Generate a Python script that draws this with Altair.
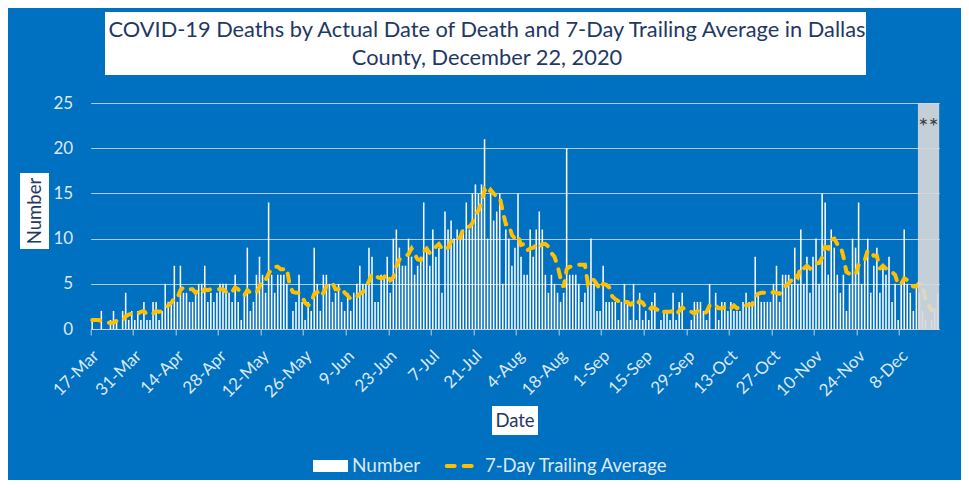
import altair as alt
import pandas as pd

# ---- data ----
start_date = "2020-03-17"

deaths = [
    1, 0, 0, 2, 0, 0, 1, 2, 1, 0,
    2, 4, 1, 2, 1, 2, 1, 3, 1, 1,
    3, 3, 1, 2, 5, 3, 3, 7, 3, 7,
    4, 4, 3, 3, 4, 5, 5, 7, 3, 4,
    3, 4, 5, 5, 5, 4, 3, 6, 3, 1,
    4, 9, 2, 3, 6, 8, 6, 4, 14, 6,
    4, 6, 6, 6, 5, 0, 2, 3, 6, 3,
    1, 3, 2, 9, 5, 2, 6, 6, 5, 3,
    4, 5, 3, 2, 4, 2, 4, 5, 7, 5,
    5, 9, 8, 3, 3, 6, 6, 8, 4, 10,
    11, 9, 7, 7, 10, 8, 6, 7, 8, 14,
    9, 7, 11, 8, 9, 4, 13, 11, 12, 10,
    11, 10, 11, 14, 11, 15, 16, 15, 16, 21,
    10, 15, 12, 13, 15, 5, 11, 10, 7, 9,
    15, 8, 6, 6, 11, 8, 11, 13, 11, 6,
    4, 6, 5, 4, 3, 4, 20, 6, 6, 6,
    5, 3, 4, 5, 10, 5, 2, 2, 7, 3,
    3, 3, 3, 1, 3, 5, 3, 1, 5, 1,
    4, 1, 2, 1, 3, 4, 0, 1, 2, 2,
    1, 4, 1, 3, 4, 0, 0, 1, 3, 3,
    3, 2, 1, 5, 0, 4, 1, 3, 3, 2,
    3, 2, 2, 2, 3, 4, 3, 3, 8, 4,
    3, 3, 3, 3, 5, 7, 3, 6, 6, 6,
    5, 9, 5, 11, 5, 8, 4, 8, 10, 5,
    15, 14, 6, 11, 9, 6, 4, 6, 2, 5,
    10, 9, 14, 5, 8, 10, 4, 7, 9, 4,
    7, 6, 8, 3, 5, 1, 5, 11, 5, 4,
    2, 5, 4, 2, 1, 0, 1, 2, 4,
]

avg7 = [
    1.0, 1.0, 1.0, 0.9, 0.8, 0.7, 0.7, 0.7, 0.9, 0.9,
    0.9, 1.4, 1.6, 1.7, 1.6, 1.7, 1.9, 2.0, 1.6, 1.6,
    1.7, 2.0, 1.9, 2.0, 2.3, 2.6, 2.9, 3.4, 3.4, 4.3,
    4.6, 4.4, 4.4, 4.4, 4.0, 4.3, 4.0, 4.4, 4.3, 4.4,
    4.4, 4.4, 4.4, 4.4, 4.1, 4.3, 4.1, 4.6, 4.4, 3.9,
    3.7, 4.3, 4.0, 4.0, 4.0, 4.7, 5.4, 5.4, 6.1, 6.7,
    6.9, 6.9, 6.6, 6.6, 6.7, 4.7, 4.1, 4.0, 4.0, 3.6,
    2.9, 2.6, 2.9, 3.9, 4.1, 3.6, 4.0, 4.7, 5.0, 5.1,
    4.4, 4.4, 4.6, 4.0, 3.7, 3.3, 3.4, 3.6, 3.9, 4.1,
    4.6, 5.3, 6.1, 6.0, 5.7, 5.6, 5.7, 6.1, 5.4, 5.7,
    6.9, 7.7, 7.9, 8.0, 8.3, 8.9, 8.3, 7.7, 7.6, 8.6,
    8.9, 8.4, 8.9, 9.1, 9.4, 8.9, 8.7, 9.0, 9.7, 9.6,
    10.0, 10.1, 11.1, 11.3, 11.3, 11.7, 12.6, 13.1, 14.0, 15.4,
    14.9, 15.4, 15.0, 14.6, 14.6, 13.0, 11.6, 11.6, 10.4, 10.0,
    10.3, 9.3, 9.4, 8.7, 8.9, 9.0, 9.3, 9.0, 9.4, 9.4,
    9.1, 8.4, 8.0, 7.0, 5.6, 4.6, 6.6, 6.9, 6.9, 7.0,
    7.1, 7.1, 7.1, 5.0, 5.6, 5.4, 4.9, 4.4, 5.0, 4.9,
    4.6, 3.6, 3.3, 3.1, 3.3, 3.0, 3.0, 2.7, 3.0, 2.7,
    3.1, 2.9, 2.4, 2.1, 2.4, 2.3, 2.1, 1.7, 1.9, 1.9,
    1.9, 2.0, 1.6, 2.0, 2.4, 2.1, 1.9, 1.9, 1.7, 2.0,
    2.0, 1.7, 1.9, 2.6, 2.4, 2.6, 2.3, 2.3, 2.4, 2.6,
    2.3, 2.6, 2.3, 2.4, 2.4, 2.6, 2.7, 2.7, 3.6, 3.9,
    4.0, 4.0, 3.9, 3.9, 4.1, 4.0, 3.9, 4.3, 4.7, 5.1,
    5.4, 6.0, 5.7, 6.9, 6.7, 7.0, 6.7, 7.1, 7.3, 7.3,
    7.9, 9.1, 8.9, 9.9, 10.0, 9.4, 9.3, 8.0, 6.3, 6.1,
    6.0, 6.0, 7.1, 7.3, 7.6, 8.7, 8.6, 8.1, 8.1, 6.7,
    7.0, 6.7, 6.4, 6.3, 6.0, 4.9, 5.0, 5.6, 5.4, 4.9,
    4.7, 4.7, 5.1, 4.7, 3.3, 2.6, 2.1, 2.1, 2.0,
]

tick_labels = ["17-Mar", "31-Mar", "14-Apr", "28-Apr", "12-May", "26-May",
               "9-Jun", "23-Jun", "7-Jul", "21-Jul", "4-Aug", "18-Aug",
               "1-Sep", "15-Sep", "29-Sep", "13-Oct", "27-Oct", "10-Nov",
               "24-Nov", "8-Dec"]
y_ticks = [0, 5, 10, 15, 20, 25]

grey_first = "14-Dec"
star_day = "17-Dec"

title_line1 = "COVID-19 Deaths by Actual Date of Death and 7-Day Trailing Average in Dallas"
title_line2 = "County, December 22, 2020"

# ---- build table ----
n = min(len(deaths), len(avg7))
dates = [f"{d.day}-{d.strftime('%b')}" for d in pd.date_range(start_date, periods=n, freq="D")]
df = pd.DataFrame({"date": dates, "deaths": deaths[:n], "avg": avg7[:n]})

FONT = "Lato"
LIGHT = "#DCE8F5"
NAVY = "#1F3864"
BLUE = "#0070C0"
YELLOW = "#FFC000"

x_scale = alt.Scale(domain=dates, paddingInner=0, paddingOuter=0)
y_scale = alt.Scale(domain=[0, 25])

xaxis = alt.Axis(values=tick_labels, bandPosition=0, labelAngle=-45, labelAlign="right",
                 labelBaseline="middle", labelFont=FONT, labelFontSize=17, labelColor=LIGHT,
                 labelPadding=18, labelOffset=4, labelOverlap=False, tickColor="#BFD0E3",
                 tickSize=6, domainColor="#C6D5E6", domainWidth=1, grid=False, title=None)
yaxis = alt.Axis(values=y_ticks, grid=True, gridColor="#B0CAE6", gridWidth=1, domain=False,
                 ticks=False, labelFont=FONT, labelFontSize=17, labelColor=LIGHT,
                 labelPadding=18, title=None)


def X(**kw):
    return alt.X("date:O", scale=x_scale, sort=None, axis=xaxis, **kw)


bars = alt.Chart(df).mark_bar(color="white", width=alt.RelativeBandSize(0.5)).encode(
    x=X(),
    y=alt.Y("deaths:Q", scale=y_scale, axis=yaxis),
)

line = alt.Chart(df).mark_line(color=YELLOW, strokeWidth=4, strokeDash=[8, 9],
                               strokeCap="round").encode(
    x=X(bandPosition=0.5),
    y=alt.Y("avg:Q", scale=y_scale, axis=yaxis),
)

grey = alt.Chart(pd.DataFrame({"date": [grey_first]})).mark_rect(
    color="#D9D9D9", opacity=0.9).encode(
    x=X(bandPosition=0),
    x2=alt.value("width"),
    y=alt.datum(25),
    y2=alt.datum(0),
)

star = alt.Chart(pd.DataFrame({"date": [star_day]})).mark_text(
    text="**", font=FONT, fontSize=24, color="#404040", align="center", baseline="middle"
).encode(x=X(bandPosition=0.5), y=alt.value(34))

one = pd.DataFrame({"k": [0]})


def box(x1, x2, y1, y2):
    return alt.Chart(one).mark_rect(color="white").encode(
        x=alt.value(x1), x2=alt.value(x2), y=alt.value(y1), y2=alt.value(y2))


def label(txt, x, y, size, color, align="center", angle=0):
    return alt.Chart(one).mark_text(text=txt, font=FONT, fontSize=size, color=color,
                                    align=align, baseline="middle", angle=angle).encode(
        x=alt.value(x), y=alt.value(y))


title_box = box(14.3, 775.3, -82, -19)
t1 = label(title_line1, 396.3, -64, 21.8, NAVY)
t2 = label(title_line2, 396.3, -36, 21.8, NAVY)

ybox = box(-70.7, -41.7, 79, 155)
ytitle = label("Number", -55.7, 117, 18.5, NAVY, angle=270)
xbox = box(401.3, 447.3, 312, 341)
xtitle = label("Date", 424.3, 327, 18.5, NAVY)

leg_swatch = box(222.3, 257.3, 366, 378)
leg_t1 = label("Number", 261.3, 372, 19, LIGHT, align="left")
leg_line = alt.Chart(one).mark_rule(color=YELLOW, strokeWidth=4, strokeDash=[8, 9],
                                    strokeCap="round").encode(
    x=alt.value(356), x2=alt.value(384), y=alt.value(372))
leg_t2 = label("7-Day Trailing Average", 394.3, 372, 18.5, LIGHT, align="left")

chart = alt.layer(
    bars, line, grey, star, title_box, t1, t2, ybox, ytitle, xbox, xtitle,
    leg_swatch, leg_t1, leg_line, leg_t2,
).properties(
    width=848.5, height=235,
    padding={"left": 82.7, "top": 86, "right": 21.8, "bottom": 151},
    autosize=alt.AutoSizeParams(type="none"),
    background=BLUE,
).configure_view(strokeWidth=0)

chart.save("out.html", embed_options={"renderer": "svg", "actions": False})
